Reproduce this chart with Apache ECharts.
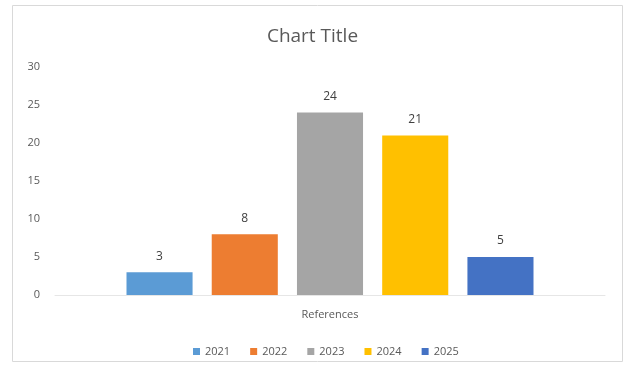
<!DOCTYPE html>
<html><head><meta charset="utf-8">
<script src="https://cdn.jsdelivr.net/npm/echarts@6/dist/echarts.min.js"></script>
<style>html,body{margin:0;padding:0;background:#fff;}#c{width:625px;height:369px;}</style>
</head><body><div id="c"></div>
<script>
const categories = ['References'];
const seriesNames = ['2021', '2022', '2023', '2024', '2025'];
const values2021 = [3];
const values2022 = [8];
const values2023 = [24];
const values2024 = [21];
const values2025 = [5];
const colors = ['#5B9BD5', '#ED7D31', '#A5A5A5', '#FFC000', '#4472C4'];
const allValues = [values2021, values2022, values2023, values2024, values2025];

const chart = echarts.init(document.getElementById('c'));
chart.setOption({
  animation: false,
  textStyle: { fontFamily: 'Open Sans, Noto Sans, sans-serif' },
  graphic: [{
    type: 'rect', shape: { x: 12.5, y: 5.5, width: 610, height: 356 },
    style: { fill: 'none', stroke: '#d9d9d9', lineWidth: 1 }, silent: true, z: -1
  }],
  title: {
    text: 'Chart Title', left: 'center', top: 22,
    textStyle: { color: '#595959', fontSize: 19, fontWeight: 'normal', fontFamily: 'Open Sans, sans-serif' }
  },
  legend: {
    bottom: 7, left: 188, itemWidth: 7, itemHeight: 7, itemGap: 20,
    icon: 'rect',
    textStyle: { color: '#595959', fontSize: 11 },
    data: seriesNames
  },
  grid: { left: 55, right: 20, top: 67, bottom: 74 },
  xAxis: {
    type: 'category', data: categories,
    axisLine: { lineStyle: { color: '#e6e6e6' } },
    axisTick: { show: false },
    axisLabel: { color: '#595959', fontSize: 11, margin: 14 }
  },
  yAxis: {
    type: 'value', min: 0, max: 30, interval: 5,
    axisLine: { show: false }, axisTick: { show: false },
    splitLine: { show: false },
    axisLabel: { color: '#595959', fontSize: 11, margin: 15 }
  },
  series: seriesNames.map((n, i) => ({
    name: n, type: 'bar', data: allValues[i],
    itemStyle: { color: colors[i] },
    barGap: '29%', barCategoryGap: '26%',
    label: { show: true, position: 'top', distance: 10, color: '#404040', fontSize: 12 }
  }))
});
</script></body></html>
